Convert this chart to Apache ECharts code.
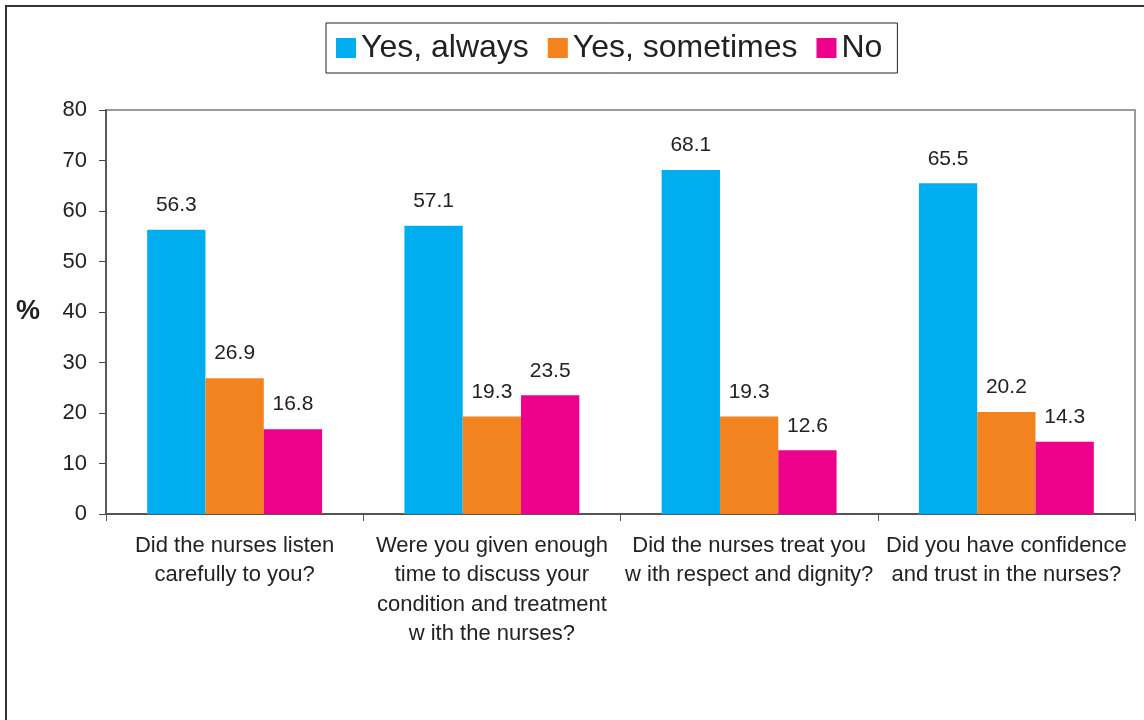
<!DOCTYPE html>
<html>
<head>
<meta charset="utf-8">
<title>Patient experience of nursing care</title>
<script src="https://cdn.jsdelivr.net/npm/echarts@6/dist/echarts.min.js"></script>
<style>
  html, body { margin: 0; padding: 0; background: #fff; }
  #chart { width: 1144px; height: 720px; }
</style>
</head>
<body>
<div id="chart"></div>
<script>
// Survey questions (x-axis categories)
const questions = [
  'Did the nurses listen\ncarefully to you?',
  'Were you given enough\ntime to discuss your\ncondition and treatment\nw ith the nurses?',
  'Did the nurses treat you\nw ith respect and dignity?',
  'Did you have confidence\nand trust in the nurses?'
];

// Response shares, %
const yesAlways    = [56.3, 57.1, 68.1, 65.5];
const yesSometimes = [26.9, 19.3, 19.3, 20.2];
const no           = [16.8, 23.5, 12.6, 14.3];

const seriesNames  = ['Yes, always', 'Yes, sometimes', 'No'];
const seriesColors = ['#00AEEF', '#F3831F', '#EC008C'];

const FONT = '"Liberation Sans", Arial, Helvetica, sans-serif';

const chart = echarts.init(document.getElementById('chart'), null, { renderer: 'canvas' });

function barSeries(name, values, color) {
  return {
    name: name,
    type: 'bar',
    data: values,
    barGap: '0%',
    barCategoryGap: '32%',
    itemStyle: { color: color },
    label: {
      show: true,
      position: 'top',
      distance: 14,
      fontFamily: FONT,
      fontSize: 21,
      color: '#222',
      formatter: p => p.value.toFixed(1)
    },
    emphasis: { disabled: true }
  };
}

chart.setOption({
  animation: false,
  backgroundColor: '#fff',
  textStyle: { fontFamily: FONT },
  graphic: [
    {
      type: 'rect',
      shape: { x: 6, y: 6, width: 1160, height: 740 },
      style: { fill: 'none', stroke: '#333', lineWidth: 2 },
      silent: true,
      z: 100
    }
  ],
  legend: {
    data: seriesNames,
    left: 326,
    top: 23,
    orient: 'horizontal',
    icon: 'rect',
    itemWidth: 20,
    itemHeight: 20,
    itemGap: 19,
    itemTextGap: 7,
    padding: [9, 15, 9, 10],
    borderColor: '#222',
    borderWidth: 1,
    textStyle: { fontFamily: FONT, fontSize: 32, color: '#222' }
  },
  grid: {
    left: 106,
    right: 9,
    top: 110,
    bottom: 206,
    show: true,
    borderColor: '#9a9a9a',
    borderWidth: 2,
    containLabel: false
  },
  xAxis: {
    type: 'category',
    data: questions,
    axisLine: { show: true, lineStyle: { color: '#555', width: 2 } },
    axisTick: { show: true, length: 7, lineStyle: { color: '#555', width: 1 } },
    axisLabel: {
      interval: 0,
      margin: 17,
      fontFamily: FONT,
      fontSize: 22,
      lineHeight: 29.5,
      color: '#222',
      align: 'center'
    },
    splitLine: { show: false }
  },
  yAxis: {
    type: 'value',
    min: 0,
    max: 80,
    interval: 10,
    name: '%',
    nameLocation: 'middle',
    nameRotate: 0,
    nameGap: 66,
    nameTextStyle: { fontFamily: FONT, fontSize: 27, fontWeight: 'bold', color: '#222' },
    axisLine: { show: true, lineStyle: { color: '#444', width: 1.5 } },
    axisTick: { show: true, length: 7, lineStyle: { color: '#444', width: 1 } },
    axisLabel: { margin: 19, fontFamily: FONT, fontSize: 22, color: '#222' },
    splitLine: { show: false }
  },
  series: [
    barSeries(seriesNames[0], yesAlways, seriesColors[0]),
    barSeries(seriesNames[1], yesSometimes, seriesColors[1]),
    barSeries(seriesNames[2], no, seriesColors[2])
  ]
});
</script>
</body>
</html>
